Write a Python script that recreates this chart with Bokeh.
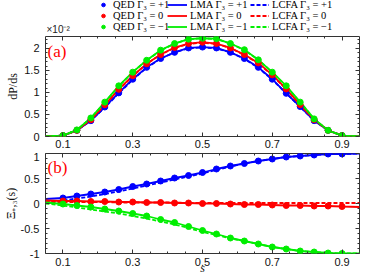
from bokeh.plotting import figure
from bokeh.layouts import column
from bokeh.models import Range1d, FixedTicker, LinearAxis, Legend, LegendItem, Label
from bokeh.embed import file_html
from bokeh.resources import INLINE

# ---------------- data ----------------
s_qed = [0.10, 0.14, 0.18, 0.22, 0.26, 0.30, 0.34, 0.38, 0.42, 0.46, 0.50,
         0.54, 0.58, 0.62, 0.66, 0.70, 0.74, 0.78, 0.82, 0.86, 0.90]
s_line = [0.05, 0.10, 0.14, 0.18, 0.22, 0.26, 0.30, 0.34, 0.38, 0.42, 0.46, 0.50,
          0.54, 0.58, 0.62, 0.66, 0.70, 0.74, 0.78, 0.82, 0.86, 0.90, 0.95]

# dP/ds in units of 1e-2
dp_qed_p1 = [0.02, 0.14, 0.36, 0.67, 0.99, 1.30, 1.57, 1.77, 1.91, 2.01, 2.03,
             2.01, 1.91, 1.77, 1.57, 1.30, 0.98, 0.68, 0.36, 0.14, 0.02]
dp_qed_0 = [0.02, 0.14, 0.38, 0.72, 1.07, 1.38, 1.65, 1.86, 2.02, 2.11, 2.14,
            2.11, 2.01, 1.86, 1.67, 1.40, 1.08, 0.72, 0.38, 0.14, 0.02]
dp_qed_m1 = [0.02, 0.15, 0.42, 0.78, 1.15, 1.46, 1.73, 1.96, 2.11, 2.21, 2.23,
             2.22, 2.11, 1.97, 1.74, 1.46, 1.15, 0.78, 0.40, 0.14, 0.02]

dp_lma_p1 = [0.00, 0.02, 0.14, 0.36, 0.67, 0.99, 1.30, 1.57, 1.77, 1.91, 2.01, 2.03,
             2.01, 1.91, 1.77, 1.57, 1.30, 0.98, 0.68, 0.36, 0.14, 0.02, 0.00]
dp_lma_0 = [0.00, 0.02, 0.14, 0.38, 0.72, 1.07, 1.38, 1.65, 1.86, 2.02, 2.11, 2.14,
            2.11, 2.01, 1.86, 1.67, 1.40, 1.08, 0.72, 0.38, 0.14, 0.02, 0.00]
dp_lma_m1 = [0.00, 0.02, 0.15, 0.42, 0.78, 1.15, 1.46, 1.73, 1.96, 2.11, 2.21, 2.23,
             2.22, 2.11, 1.97, 1.74, 1.46, 1.15, 0.78, 0.40, 0.14, 0.02, 0.00]
dp_lcfa_p1 = [0.00, 0.02, 0.14, 0.36, 0.66, 0.98, 1.29, 1.56, 1.77, 1.91, 2.00, 2.02,
              2.00, 1.91, 1.76, 1.56, 1.29, 0.98, 0.67, 0.36, 0.14, 0.02, 0.00]
dp_lcfa_0 = [0.00, 0.02, 0.14, 0.38, 0.71, 1.06, 1.37, 1.65, 1.86, 2.01, 2.10, 2.13,
             2.10, 2.01, 1.85, 1.66, 1.39, 1.07, 0.72, 0.38, 0.14, 0.02, 0.00]
dp_lcfa_m1 = [0.00, 0.02, 0.15, 0.42, 0.77, 1.14, 1.46, 1.73, 1.95, 2.11, 2.21, 2.23,
              2.21, 2.11, 1.96, 1.74, 1.46, 1.14, 0.78, 0.40, 0.14, 0.02, 0.00]

# Xi_{+,3}(s)
xi_qed_p1 = [0.11, 0.15, 0.19, 0.23, 0.28, 0.34, 0.39, 0.45, 0.51, 0.56, 0.62,
             0.69, 0.75, 0.80, 0.85, 0.89, 0.93, 0.95, 0.97, 0.99, 0.99]
xi_qed_0 = [0.05, 0.05, 0.04, 0.04, 0.03, 0.03, 0.02, 0.02, 0.01, 0.01, 0.00,
            0.00, -0.01, -0.02, -0.02, -0.03, -0.04, -0.04, -0.05, -0.05, -0.06]
xi_qed_m1 = [-0.01, -0.04, -0.07, -0.11, -0.15, -0.20, -0.25, -0.32, -0.38, -0.46, -0.54,
             -0.61, -0.69, -0.75, -0.81, -0.87, -0.91, -0.95, -0.97, -0.99, -1.00]

xi_lma_p1 = [0.09, 0.11, 0.15, 0.19, 0.23, 0.28, 0.34, 0.39, 0.45, 0.51, 0.56, 0.62,
             0.69, 0.75, 0.80, 0.85, 0.89, 0.93, 0.95, 0.97, 0.99, 0.99, 1.00]
xi_lma_0 = [0.06, 0.05, 0.05, 0.04, 0.04, 0.03, 0.03, 0.02, 0.02, 0.01, 0.01, 0.00,
            0.00, -0.01, -0.02, -0.02, -0.03, -0.04, -0.04, -0.05, -0.05, -0.06, -0.07]
xi_lma_m1 = [0.02, -0.01, -0.04, -0.07, -0.11, -0.15, -0.20, -0.25, -0.32, -0.38, -0.46, -0.54,
             -0.61, -0.69, -0.75, -0.81, -0.87, -0.91, -0.95, -0.97, -0.99, -1.00, -1.00]
xi_lcfa_p1 = [0.04, 0.06, 0.10, 0.14, 0.19, 0.24, 0.30, 0.36, 0.42, 0.48, 0.54, 0.60,
              0.67, 0.74, 0.80, 0.85, 0.89, 0.93, 0.95, 0.97, 0.99, 0.99, 1.00]
xi_lcfa_0 = [0.03, 0.03, 0.03, 0.03, 0.03, 0.02, 0.02, 0.02, 0.02, 0.02, 0.01, 0.01,
             0.01, 0.01, 0.01, 0.01, 0.01, 0.01, 0.01, 0.01, 0.01, 0.01, 0.01]
xi_lcfa_m1 = [0.00, -0.04, -0.08, -0.12, -0.16, -0.20, -0.25, -0.30, -0.36, -0.42, -0.49, -0.57,
              -0.63, -0.70, -0.75, -0.81, -0.87, -0.91, -0.95, -0.97, -0.99, -1.00, -1.00]

x_major = [0.1, 0.3, 0.5, 0.7, 0.9]
x_minor = [0.15, 0.2, 0.25, 0.35, 0.4, 0.45, 0.55, 0.6, 0.65, 0.75, 0.8, 0.85]
x_labels = ["0.1", "0.3", "0.5", "0.7", "0.9"]
y_top_major = [0, 0.5, 1, 1.5, 2]
y_top_labels = ["0", "0.5", "1", "1.5", "2"]
y_bot_major = [-1, -0.5, 0, 0.5, 1]
y_bot_labels = ["-1", "-0.5", "0", "0.5", "1"]

series_colors = ["#0000ff", "#ff0000", "#00ee00"]
gamma_txt = ["+1", "0", "\u22121"]

TICK_FONT = "Liberation Sans"
SERIF = "Liberation Serif"
FRAME = "#333333"
W = 374
LW = 1.8
MS = 6


def style_axis(ax, ticker, labels=None, show=True, standoff=4):
    ax.ticker = ticker
    ax.axis_line_color = None
    ax.major_tick_in = 4
    ax.major_tick_out = 0
    ax.minor_tick_in = 2
    ax.minor_tick_out = 0
    ax.major_tick_line_color = FRAME
    ax.minor_tick_line_color = FRAME
    ax.major_label_text_font = TICK_FONT
    ax.major_label_text_color = "#111111"
    if show:
        ax.major_label_text_font_size = "11px"
        ax.major_label_standoff = standoff
        if labels is not None:
            ax.major_label_overrides = {t: l for t, l in zip(ticker.ticks, labels)}
    else:
        ax.major_label_text_font_size = "0px"
        ax.major_label_standoff = 0


def make_fig(height, top, bottom, yr, y_major, y_minor, y_labels, xstand):
    p = figure(width=W, height=height, x_range=Range1d(0.05, 0.95), y_range=yr,
               output_backend="svg", toolbar_location=None,
               min_border_left=41, min_border_right=15,
               min_border_top=top, min_border_bottom=bottom)
    p.xgrid.visible = False
    p.ygrid.visible = False
    p.outline_line_color = FRAME
    p.outline_line_width = 1
    bottom_ax = p.below[0]
    left_ax = p.left[0]
    style_axis(bottom_ax, FixedTicker(ticks=x_major, minor_ticks=x_minor), x_labels, True, xstand)
    style_axis(left_ax, FixedTicker(ticks=y_major, minor_ticks=y_minor), y_labels, True, 6)
    ra = LinearAxis()
    style_axis(ra, FixedTicker(ticks=y_major, minor_ticks=y_minor), show=False)
    p.add_layout(ra, "right")
    ta = LinearAxis()
    style_axis(ta, FixedTicker(ticks=x_major, minor_ticks=x_minor), show=False)
    p.add_layout(ta, "above")
    return p, bottom_ax, left_ax


y_top_minor = [v / 10 for v in range(1, 23) if v % 5 != 0]
y_bot_minor = [v / 10 for v in range(-9, 10) if v % 5 != 0]

# ---------------- header (legend + exponent) ----------------
hdr = figure(width=W, height=35, output_backend="svg", toolbar_location=None,
             x_axis_location=None, y_axis_location=None,
             min_border_left=0, min_border_right=0, min_border_top=0, min_border_bottom=0,
             x_range=Range1d(-2, -1), y_range=Range1d(-2, -1))
hdr.xgrid.visible = False
hdr.ygrid.visible = False
hdr.outline_line_color = None

qed_items, lma_items, lcfa_items = [], [], []
for c, g, q in zip(series_colors, gamma_txt, [dp_qed_p1, dp_qed_0, dp_qed_m1]):
    r = hdr.scatter(s_qed, q, marker="circle", size=MS, fill_color=c, line_color=c)
    qed_items.append(LegendItem(label=f"QED \u0393\u2083 = {g}", renderers=[r]))
for c, g, l in zip(series_colors, gamma_txt, [dp_lma_p1, dp_lma_0, dp_lma_m1]):
    r = hdr.line(s_line, l, line_color=c, line_width=LW)
    lma_items.append(LegendItem(label=f"LMA \u0393\u2083 = {g}", renderers=[r]))
for c, g, f in zip(series_colors, gamma_txt, [dp_lcfa_p1, dp_lcfa_0, dp_lcfa_m1]):
    r = hdr.line(s_line, f, line_color=c, line_width=LW, line_dash="4 2")
    lcfa_items.append(LegendItem(label=f"LCFA \u0393\u2083 = {g}", renderers=[r]))

for its, xloc, gw in ((qed_items, 51, 14), (lma_items, 122, 20), (lcfa_items, 205, 19)):
    lg = Legend(items=its, location=(xloc, 3), orientation="vertical",
                label_text_font=SERIF, label_text_font_size="10.5px",
                label_text_color="#000000",
                glyph_width=gw, glyph_height=9, label_height=9, label_width=10,
                label_standoff=3,
                spacing=0, padding=0, margin=0, border_line_alpha=0,
                background_fill_alpha=0)
    hdr.add_layout(lg)

hdr.add_layout(Label(x=1, y=1, x_units="screen", y_units="screen", text="\u00d710\u207b\u00b2",
                     text_font=TICK_FONT, text_font_size="10px", text_baseline="bottom",
                     text_color="#222222"))

# ---------------- top panel ----------------
p1, p1_bottom, p1_left = make_fig(117, 1, 16, Range1d(0, 2.27), y_top_major, y_top_minor,
                                  y_top_labels, 3)
p1_left.axis_label = "dP/ds"
p1_left.axis_label_text_font = SERIF
p1_left.axis_label_text_font_size = "12px"
p1_left.axis_label_text_font_style = "normal"
p1_left.axis_label_text_color = "#111111"
p1_left.axis_label_standoff = 1
for c, l, f in zip(series_colors, [dp_lma_p1, dp_lma_0, dp_lma_m1],
                   [dp_lcfa_p1, dp_lcfa_0, dp_lcfa_m1]):
    p1.line(s_line, l, line_color=c, line_width=LW)
    p1.line(s_line, f, line_color=c, line_width=LW, line_dash="4 2")
for c, q in zip(series_colors, [dp_qed_p1, dp_qed_0, dp_qed_m1]):
    p1.scatter(s_qed, q, marker="circle", size=MS, fill_color=c, line_color=c)
p1.add_layout(Label(x=2, y=95, x_units="screen", y_units="screen", text="(a)",
                    text_font=SERIF, text_font_size="17px", text_baseline="top",
                    text_color="#ff0000"))

# ---------------- bottom panel ----------------
p2, p2_bottom, p2_left = make_fig(128, 1, 27, Range1d(-1, 1), y_bot_major, y_bot_minor,
                                  y_bot_labels, 4)
p2_left.axis_label = "\u039e\u208a,\u2083(s)"
p2_left.axis_label_text_font = SERIF
p2_left.axis_label_text_font_size = "12px"
p2_left.axis_label_text_font_style = "normal"
p2_left.axis_label_text_color = "#111111"
p2_left.axis_label_standoff = 0
p2_bottom.axis_label = "s"
p2_bottom.axis_label_text_font = SERIF
p2_bottom.axis_label_text_font_size = "12px"
p2_bottom.axis_label_text_font_style = "italic"
p2_bottom.axis_label_text_color = "#111111"
p2_bottom.axis_label_standoff = -8
for c, l, f in zip(series_colors, [xi_lma_p1, xi_lma_0, xi_lma_m1],
                   [xi_lcfa_p1, xi_lcfa_0, xi_lcfa_m1]):
    p2.line(s_line, l, line_color=c, line_width=LW)
    p2.line(s_line, f, line_color=c, line_width=LW, line_dash="4 2")
for c, q in zip(series_colors, [xi_qed_p1, xi_qed_0, xi_qed_m1]):
    p2.scatter(s_qed, q, marker="circle", size=MS, fill_color=c, line_color=c)
p2.add_layout(Label(x=2, y=96, x_units="screen", y_units="screen", text="(b)",
                    text_font=SERIF, text_font_size="17px", text_baseline="top",
                    text_color="#ff0000"))

layout = column(hdr, p1, p2, spacing=0)
open("out.html", "w").write(file_html(layout, INLINE))
